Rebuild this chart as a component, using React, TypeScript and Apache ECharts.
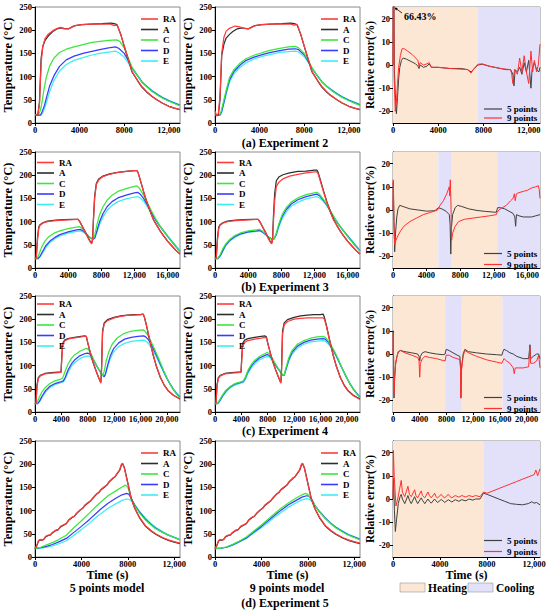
import React, { useEffect, useRef } from "react";
import * as echarts from "echarts";

// ---------- Experiment 2 ----------
const e2RA5 = [[0,18],[250,17],[400,40],[550,130],[700,165],[900,182],[1200,192],[1600,199],[2000,204],[2300,206],[2600,203],[3000,203],[3300,206],[3600,210],[4200,212],[5000,213],[6000,213],[6800,213],[7100,210],[7300,211],[7400,209],[7700,190],[8100,158],[8700,111],[9200,92],[9600,78],[10000,68],[10500,57],[10800,52],[11000,49],[11400,43],[12000,36],[12500,32],[13000,29]];
const e2A5 = [[0,18],[250,17],[400,45],[550,140],[700,165],[900,178],[1200,188],[1600,197],[2000,203],[2300,205],[2600,204],[3000,203],[3300,207],[3600,210],[4200,212],[5000,213],[6000,214],[6800,215],[7100,214],[7350,212],[7700,190],[8100,157],[8700,110],[9200,91],[9600,77],[10000,67],[10500,57],[11000,49],[11400,43],[12000,36],[12500,32],[13000,29]];
const e2C5 = [[0,18],[300,18],[450,25],[600,40],[800,72],[1000,97],[1300,122],[1700,140],[2200,152],[2800,159],[3500,164],[4300,169],[5000,173],[5800,176],[6600,178],[7300,179],[7600,176],[8000,162],[8400,138],[8700,120],[9200,102],[9600,87],[10000,78],[10500,68],[11000,60],[11400,54],[12000,47],[12500,42],[13000,37]];
const e2D5 = [[0,17],[500,17],[650,25],[850,38],[1000,52],[1300,79],[1700,102],[2200,122],[2800,136],[3500,144],[4300,150],[5000,154],[5800,158],[6600,162],[7200,164],[7500,161],[8000,150],[8400,133],[8700,119],[9200,102],[9600,88],[10000,79],[10500,69],[11000,61],[11400,55],[12000,48],[12500,43],[13000,38]];
const e2E5 = [[0,17],[550,17],[700,22],[900,35],[1100,50],[1300,67],[1700,92],[2200,112],[2800,126],[3500,135],[4300,141],[5000,146],[5800,150],[6600,153],[7200,155],[7500,152],[8000,142],[8400,128],[8700,117],[9200,101],[9600,89],[10000,80],[10500,70],[11000,62],[11400,56],[12000,49],[12500,44],[13000,39]];
const e2RA9 = [[0,26],[150,15],[300,20],[450,60],[600,150],[800,185],[1000,198],[1300,204],[1800,209],[2200,207],[2600,204],[3000,203],[3300,206],[3600,210],[4200,212],[5000,213],[6000,213],[6800,213],[7100,211],[7300,212],[7400,211],[7700,190],[8100,158],[8700,111],[9200,92],[9600,78],[10000,68],[10300,60],[10500,58],[10700,54],[11000,49],[11400,43],[12000,36],[12500,32],[13000,29]];
const e2A9 = [[0,17],[300,17],[450,50],[600,145],[800,170],[1000,183],[1300,191],[1600,197],[2000,203],[2400,205],[2700,204],[3000,203],[3300,207],[3600,210],[4200,212],[5000,213],[6000,214],[6800,215],[7100,214],[7350,212],[7700,190],[8100,157],[8700,110],[9200,91],[9600,77],[10000,67],[10500,57],[11000,49],[11400,43],[12000,36],[12500,32],[13000,29]];
const e2C9 = [[0,17],[400,17],[550,25],[750,45],[1000,70],[1300,98],[1700,115],[2200,128],[2800,139],[3500,146],[4300,152],[5000,157],[5800,161],[6600,164],[7200,165],[7500,162],[8000,150],[8400,133],[8700,119],[9200,101],[9600,88],[10000,79],[10500,69],[11000,61],[11400,55],[12000,48],[12500,43],[13000,38]];
const e2D9 = [[0,17],[450,17],[600,25],[800,45],[1000,66],[1300,93],[1700,111],[2200,124],[2800,135],[3500,142],[4300,148],[5000,152],[5800,156],[6600,159],[7200,160],[7500,158],[8000,147],[8400,131],[8700,118],[9200,101],[9600,88],[10000,79],[10500,70],[11000,62],[11400,56],[12000,49],[12500,44],[13000,39]];
const e2E9 = [[0,17],[450,17],[600,23],[800,42],[1000,62],[1300,88],[1700,106],[2200,119],[2800,130],[3500,138],[4300,144],[5000,148],[5800,152],[6600,154],[7200,155],[7500,153],[8000,143],[8400,129],[8700,117],[9200,101],[9600,89],[10000,80],[10500,71],[11000,63],[11400,57],[12000,50],[12500,45],[13000,40]];
const e2Err5 = [[0,0],[50,66.43],[120,-2],[200,-12],[300,-21],[400,-14],[500,-6],[600,-1],[750,2],[900,3],[1200,2.5],[1600,1.5],[2000,0.5],[2200,-0.5],[2300,-1.5],[2400,0],[2700,-1],[3000,-0.5],[3200,0.5],[3400,-1],[4000,-1],[5000,-1.5],[6000,-1.5],[6600,-2],[6900,-3],[7100,-2],[7500,0],[7900,0.3],[8500,-0.5],[9000,-1],[9500,-1.5],[10000,-2],[10400,-2],[10600,-4],[10700,-9],[10800,-2],[11000,-3],[11200,-1],[11400,-4],[11600,1],[11800,-3],[12000,2],[12200,-10],[12300,-2],[12500,1],[12700,-2],[12900,-3],[13000,-1]];
const e2Err9 = [[0,0],[40,66.43],[100,-5],[200,-20],[300,-16],[400,-8],[500,-1],[650,4],[800,7],[1000,7],[1300,6],[1700,4.5],[2000,3],[2200,2],[2300,-0.5],[2400,1],[2700,0],[3000,0.5],[3200,1],[3400,-1],[4000,-1],[5000,-1.5],[6000,-1.8],[6600,-2],[6900,-3.5],[7100,-2],[7500,0.3],[7900,0.5],[8500,-0.5],[9000,-1],[9500,-1.5],[10000,-1.8],[10400,-2],[10500,-4],[10600,-8],[10750,-2],[11000,-4],[11200,3],[11400,-3],[11600,4],[11800,-3],[12000,-8],[12200,6],[12350,-3],[12500,2],[12700,-3],[12850,0],[13000,9]];

// ---------- Experiment 3 ----------
const e3RA5 = [[0,20],[150,22],[300,60],[450,85],[600,92],[1000,97],[1500,100],[2500,102],[3500,103],[4500,104],[5000,105],[5200,105],[5400,100],[5700,90],[6000,80],[6400,65],[6700,55],[6850,52],[6950,60],[7050,100],[7200,150],[7400,180],[7700,190],[8200,197],[9000,202],[10000,206],[11000,208],[12000,210],[12300,210],[12450,205],[12700,190],[13100,165],[13500,142],[13900,122],[14300,104],[14700,92],[15100,80],[15500,70],[16000,58],[16500,48],[17000,38],[17500,30]];
const e3A5 = [[0,20],[150,22],[300,65],[450,88],[600,93],[1000,98],[1500,101],[2500,103],[3500,104],[4500,105],[5000,105],[5200,105],[5400,100],[5700,90],[6000,80],[6400,66],[6700,56],[6850,54],[6950,62],[7050,105],[7200,155],[7400,182],[7700,192],[8200,198],[9000,203],[10000,206],[11000,208],[12000,210],[12300,210],[12450,205],[12700,190],[13100,165],[13500,142],[13900,122],[14300,104],[14700,92],[15100,80],[15500,70],[16000,58],[16500,48],[17000,38],[17500,30]];
const e3C5 = [[0,20],[250,21],[500,30],[800,45],[1200,58],[1700,68],[2300,75],[3000,80],[4000,85],[5000,88],[5400,89],[5700,85],[6000,78],[6400,70],[6800,63],[7000,62],[7200,70],[7500,95],[7800,115],[8200,132],[8700,146],[9300,157],[10000,165],[11000,171],[12000,176],[12300,177],[12600,172],[13000,160],[13500,143],[14000,125],[14500,108],[15000,93],[15500,80],[16000,68],[16500,57],[17000,46],[17500,35]];
const e3D5 = [[0,20],[350,20],[600,25],[900,35],[1300,48],[1800,58],[2400,66],[3000,72],[4000,78],[5000,82],[5500,83],[5800,80],[6200,73],[6600,66],[7000,62],[7200,64],[7500,82],[7800,100],[8200,117],[8700,132],[9300,143],[10000,151],[11000,157],[12000,162],[12400,163],[12700,159],[13100,150],[13500,138],[14000,121],[14500,106],[15000,92],[15500,80],[16000,68],[16500,57],[17000,46],[17500,36]];
const e3E5 = [[0,20],[350,20],[600,24],[900,32],[1300,44],[1800,55],[2400,63],[3000,69],[4000,75],[5000,79],[5500,80],[5800,78],[6200,72],[6600,66],[7000,63],[7200,64],[7500,78],[7800,94],[8200,110],[8700,124],[9300,135],[10000,143],[11000,149],[12000,153],[12400,154],[12700,151],[13100,144],[13500,134],[14000,119],[14500,105],[15000,92],[15500,81],[16000,70],[16500,59],[17000,48],[17500,37]];
const e3RA9 = [[0,20],[150,22],[300,60],[450,85],[600,92],[1000,97],[1500,100],[2500,102],[3500,103],[4500,104],[5000,105],[5200,105],[5400,100],[5700,90],[6000,80],[6400,65],[6700,55],[6850,52],[6950,60],[7050,98],[7200,145],[7400,175],[7700,185],[8200,192],[9000,198],[10000,202],[11000,205],[12000,207],[12300,207],[12450,203],[12700,188],[13100,164],[13500,141],[13900,121],[14300,104],[14700,92],[15100,80],[15500,70],[16000,58],[16500,48],[17000,38],[17500,30]];
const e3A9 = [[0,20],[150,22],[300,65],[450,88],[600,93],[1000,98],[1500,101],[2500,103],[3500,104],[4500,105],[5000,105],[5200,105],[5400,100],[5700,90],[6000,80],[6400,66],[6700,56],[6850,54],[6950,64],[7050,110],[7200,160],[7400,188],[7700,196],[8200,201],[9000,205],[10000,208],[11000,209],[12000,211],[12300,211],[12450,206],[12700,191],[13100,166],[13500,143],[13900,123],[14300,105],[14700,92],[15100,80],[15500,70],[16000,58],[16500,48],[17000,38],[17500,30]];
const e3C9 = [[0,20],[300,20],[600,28],[900,40],[1300,52],[1800,62],[2400,70],[3000,75],[4000,80],[5000,82],[5400,83],[5700,80],[6100,73],[6500,66],[6900,61],[7100,62],[7400,75],[7700,95],[8100,115],[8600,130],[9200,142],[10000,151],[11000,158],[12000,162],[12300,163],[12600,159],[13000,150],[13500,137],[14000,121],[14500,106],[15000,92],[15500,80],[16000,68],[16500,57],[17000,46],[17500,36]];
const e3D9 = [[0,20],[350,20],[650,27],[950,38],[1300,50],[1800,60],[2400,68],[3000,73],[4000,78],[5000,80],[5400,81],[5700,78],[6100,72],[6500,66],[6900,62],[7100,62],[7400,73],[7700,92],[8100,111],[8600,126],[9200,138],[10000,147],[11000,154],[12000,158],[12300,159],[12600,156],[13000,148],[13500,136],[14000,120],[14500,105],[15000,92],[15500,80],[16000,69],[16500,58],[17000,47],[17500,37]];
const e3E9 = [[0,20],[350,20],[650,26],[950,36],[1300,48],[1800,58],[2400,66],[3000,72],[4000,77],[5000,79],[5400,80],[5700,77],[6100,72],[6500,66],[6900,63],[7100,63],[7400,71],[7700,88],[8100,106],[8600,121],[9200,133],[10000,142],[11000,149],[12000,153],[12300,154],[12600,151],[13000,145],[13500,134],[14000,119],[14500,105],[15000,92],[15500,81],[16000,70],[16500,60],[17000,49],[17500,38]];
const e3Err5 = [[0,0],[40,12],[120,-5],[200,-18],[300,-10],[450,-3],[600,0.5],[800,2],[1200,1.5],[2000,0.5],[3000,0],[4000,-0.5],[5000,-0.3],[5400,1],[5800,0.5],[6300,-0.5],[6700,-2],[6800,-6],[6880,-19],[6950,-8],[7100,-2],[7400,1],[7700,2],[8200,1.5],[9000,0.5],[10000,-0.2],[11000,-0.6],[12300,-1],[12450,1],[12800,1],[13300,0.5],[13800,-0.5],[14300,-1.5],[14500,-3],[14600,-7],[14700,-2],[15000,-2.5],[15500,-3],[16500,-3],[17000,-2.5],[17500,-2]];
const e3Err9 = [[0,0],[30,13],[100,-5],[200,-15],[350,-13],[600,-11],[900,-9],[1300,-7],[2000,-5],[2800,-3.5],[3600,-2],[4500,-1],[5300,0],[5600,2],[6000,4],[6400,7],[6700,10],[6750,6],[6820,13],[6900,3],[6980,-13],[7100,-10],[7400,-7],[7800,-5],[8500,-4],[9500,-3.5],[10500,-3],[11500,-2.5],[12300,-2],[12400,-1],[12600,0],[13000,1],[13500,2],[14000,4],[14300,5],[14450,7],[14550,4],[14700,7],[15000,7.5],[15500,8],[16000,8.5],[16500,9.5],[17000,10],[17300,10.5],[17400,9],[17500,5]];

// ---------- Experiment 4 ----------
const e4RA5 = [[0,18],[150,20],[300,55],[500,72],[800,78],[1500,82],[2500,84],[3500,85],[3950,86],[4050,110],[4200,145],[4500,153],[5000,157],[6000,160],[7000,162],[7600,164],[7800,163],[8000,150],[8400,128],[8800,108],[9200,92],[9600,76],[9900,65],[10000,62],[10100,90],[10250,170],[10500,190],[11000,197],[12000,203],[13000,206],[14000,208],[15000,209],[16000,210],[16400,211],[16600,205],[16900,188],[17300,162],[17900,125],[18400,100],[19000,76],[19600,58],[20200,46],[21000,36],[22000,28]];
const e4A = [[0,18],[150,20],[300,58],[500,74],[800,79],[1500,83],[2500,85],[3500,86],[3950,86],[4050,115],[4200,148],[4500,155],[5000,158],[6000,161],[7000,163],[7600,164],[7800,162],[8000,149],[8400,127],[8800,107],[9200,91],[9600,76],[9900,66],[10000,64],[10100,95],[10250,175],[10500,192],[11000,199],[12000,204],[13000,207],[14000,209],[15000,210],[16000,210],[16400,211],[16600,204],[16900,187],[17300,161],[17900,124],[18400,99],[19000,75],[19600,58],[20200,46],[21000,36],[22000,28]];
const e4C5 = [[0,18],[300,19],[600,30],[1000,42],[1500,52],[2200,61],[3000,67],[3900,71],[4200,73],[4500,85],[5000,103],[5500,115],[6000,123],[6800,131],[7600,136],[7900,137],[8200,133],[8600,122],[9000,110],[9500,96],[10000,84],[10300,78],[10500,88],[10800,110],[11200,130],[11700,146],[12500,160],[13500,169],[14500,174],[15500,176],[16400,177],[16700,174],[17100,166],[17500,155],[18000,140],[18500,124],[19000,107],[19500,90],[20000,74],[20500,60],[21000,48],[21500,38],[22000,31]];
const e4D5 = [[0,18],[400,18],[700,24],[1100,35],[1600,46],[2300,56],[3000,61],[3900,65],[4300,67],[4600,75],[5000,90],[5500,103],[6000,112],[6800,121],[7600,126],[8000,127],[8300,125],[8700,117],[9200,104],[9700,91],[10200,80],[10500,76],[10700,82],[11000,100],[11400,120],[11900,136],[12700,149],[13600,157],[14600,161],[15600,163],[16500,164],[16800,162],[17200,156],[17600,147],[18000,135],[18500,120],[19000,104],[19500,88],[20000,73],[20500,60],[21000,48],[21500,39],[22000,32]];
const e4E5 = [[0,18],[400,18],[700,22],[1100,32],[1600,43],[2300,53],[3000,59],[3900,63],[4300,65],[4600,72],[5000,85],[5500,98],[6000,106],[6800,115],[7600,120],[8000,121],[8300,120],[8700,113],[9200,102],[9700,91],[10200,82],[10500,78],[10700,82],[11000,96],[11400,114],[11900,129],[12700,141],[13600,148],[14600,152],[15600,154],[16500,155],[16800,153],[17200,148],[17600,140],[18000,130],[18500,116],[19000,101],[19500,87],[20000,73],[20500,61],[21000,50],[21500,41],[22000,33]];
const e4RA9 = [[0,18],[150,20],[300,55],[500,72],[800,78],[1500,82],[2500,84],[3500,85],[3950,86],[4050,110],[4200,143],[4500,150],[5000,154],[6000,157],[7000,159],[7600,161],[7800,160],[8000,148],[8400,127],[8800,107],[9200,91],[9600,76],[9900,65],[10000,62],[10100,90],[10250,168],[10500,188],[11000,195],[12000,200],[13000,202],[14000,203],[15000,203],[16000,203],[16400,203],[16600,200],[16900,185],[17300,160],[17900,124],[18400,99],[19000,75],[19600,57],[20200,45],[21000,35],[22000,27]];
const e4C9 = [[0,18],[350,18],[700,26],[1100,36],[1600,46],[2300,55],[3000,61],[3900,65],[4300,67],[4600,75],[5000,90],[5500,102],[6000,111],[6800,120],[7600,126],[7900,128],[8200,126],[8600,118],[9000,108],[9500,96],[10000,85],[10300,79],[10500,80],[10800,97],[11200,117],[11700,133],[12500,146],[13500,154],[14500,159],[15500,162],[16400,163],[16700,161],[17100,155],[17500,146],[18000,134],[18500,120],[19000,104],[19500,88],[20000,73],[20500,60],[21000,48],[21500,39],[22000,31]];
const e4D9 = [[0,18],[400,18],[750,25],[1150,35],[1650,45],[2300,54],[3000,60],[3900,64],[4300,66],[4600,73],[5000,87],[5500,99],[6000,108],[6800,117],[7600,122],[7900,124],[8200,122],[8600,116],[9000,106],[9500,95],[10000,85],[10300,79],[10500,79],[10800,94],[11200,113],[11700,129],[12500,142],[13500,150],[14500,155],[15500,157],[16400,158],[16700,157],[17100,152],[17500,144],[18000,132],[18500,118],[19000,103],[19500,88],[20000,73],[20500,60],[21000,49],[21500,40],[22000,32]];
const e4E9 = [[0,18],[400,18],[750,24],[1150,33],[1650,43],[2300,52],[3000,58],[3900,62],[4300,64],[4600,70],[5000,83],[5500,95],[6000,104],[6800,113],[7600,118],[7900,120],[8200,119],[8600,113],[9000,104],[9500,94],[10000,85],[10300,80],[10500,80],[10800,92],[11200,110],[11700,125],[12500,138],[13500,146],[14500,151],[15500,153],[16400,154],[16700,153],[17100,148],[17500,141],[18000,130],[18500,117],[19000,102],[19500,88],[20000,74],[20500,61],[21000,50],[21500,41],[22000,33]];
const e4Err5 = [[0,0],[40,10],[100,-5],[150,-19],[250,-10],[400,-4],[600,-1],[800,1],[1100,1.5],[1800,1],[2800,0.5],[3700,0],[3900,-1],[4000,-3],[4100,-1],[4400,0.5],[4800,1],[5500,0.5],[6500,0],[7500,-0.3],[7800,0],[7950,2],[8400,1.5],[9000,0.5],[9600,-0.5],[10000,-1],[10100,-5],[10150,-19],[10250,-6],[10500,0],[10750,2],[11300,1],[12500,0.5],[14000,0],[15500,-0.3],[16300,-0.5],[16450,1],[16600,2],[17000,1.5],[17500,0.5],[18000,0],[18500,-1],[19000,-1.5],[19500,-2],[20300,-2],[20500,4],[20600,-2],[21000,-1],[21500,0],[21800,0],[22000,-2]];
const e4Err9 = [[0,0],[40,9],[100,-5],[150,-17],[250,-10],[400,-4],[600,-1],[800,1],[1100,1.5],[1800,0.5],[2800,-0.5],[3700,-1.5],[3900,-3],[4000,-10],[4100,-4],[4400,-2],[4800,-1],[5500,-1.5],[6500,-2],[7500,-2.8],[7800,-3],[7950,-0.5],[8400,-0.5],[9000,-1.5],[9600,-2],[10000,-2.5],[10100,-6],[10150,-19],[10250,-7],[10500,-1],[10750,1.5],[11300,0.5],[12500,-1],[14000,-2.5],[15500,-3.5],[16300,-4],[16450,-3],[16600,-2],[17000,-3],[17500,-4],[18000,-6],[18150,-8.5],[18300,-6],[19000,-6],[19500,-6],[20300,-5.5],[20500,3],[20600,-4],[21000,-4],[21500,-3],[21800,-0.5],[22000,-6]];

// ---------- Experiment 5 ----------
const e5RA = [[0,18],[150,25],[300,35],[450,38],[600,36],[750,38],[900,44],[1100,47],[1300,47],[1500,53],[1800,58],[2000,59],[2200,66],[2500,70],[2700,72],[2900,80],[3200,86],[3400,88],[3600,95],[3900,102],[4100,105],[4300,112],[4600,118],[4800,121],[5000,128],[5300,136],[5500,139],[5700,146],[6000,152],[6200,155],[6400,163],[6700,170],[6900,173],[7100,181],[7300,188],[7450,200],[7550,202],[7700,192],[7900,170],[8300,125],[8600,105],[9000,86],[9500,68],[10000,57],[10400,50],[11000,42],[11500,37],[12000,33],[12500,30]];
const e5A = [[0,18],[150,24],[300,34],[450,37],[600,36],[750,38],[900,43],[1100,46],[1300,47],[1500,52],[1800,57],[2000,59],[2200,65],[2500,69],[2700,72],[2900,79],[3200,85],[3400,88],[3600,94],[3900,101],[4100,105],[4300,111],[4600,117],[4800,121],[5000,127],[5300,135],[5500,139],[5700,145],[6000,151],[6200,155],[6400,162],[6700,169],[6900,173],[7100,180],[7300,187],[7450,198],[7550,201],[7700,193],[7900,171],[8300,126],[8600,105],[9000,85],[9500,67],[10000,56],[10400,49],[11000,41],[11500,36],[12000,32],[12500,29]];
const e5C5 = [[0,18],[500,21],[1000,26],[1500,31],[2000,37],[2700,47],[3300,62],[4000,78],[4700,95],[5300,110],[5700,119],[6300,132],[7000,143],[7500,151],[7800,155],[8000,150],[8300,127],[8600,110],[9000,95],[9500,80],[10000,69],[10400,61],[11000,53],[11500,47],[12000,42],[12500,37]];
const e5D5 = [[0,18],[500,20],[1000,23],[1500,27],[2000,32],[2700,40],[3300,52],[4000,66],[4700,81],[5300,95],[5700,104],[6300,116],[7000,127],[7500,134],[7900,137],[8100,135],[8350,124],[8600,112],[9000,97],[9500,82],[10000,70],[10400,62],[11000,53],[11500,47],[12000,42],[12500,37]];
const e5E5 = [[0,18],[500,19],[1000,21],[1500,24],[2000,28],[2700,35],[3300,46],[4000,59],[4700,73],[5300,86],[5700,94],[6300,105],[7000,115],[7500,122],[7900,125],[8100,124],[8350,121],[8600,113],[9000,99],[9500,84],[10000,72],[10400,64],[11000,55],[11500,48],[12000,43],[12500,38]];
const e5C9 = [[0,18],[500,19],[1000,22],[1500,27],[2000,33],[2700,43],[3300,55],[4000,69],[4700,84],[5300,97],[5700,105],[6300,116],[7000,127],[7500,134],[7800,137],[8000,135],[8300,125],[8600,112],[9000,97],[9500,83],[10000,71],[10400,63],[11000,54],[11500,47],[12000,42],[12500,37]];
const e5D9 = [[0,18],[500,19],[1000,21],[1500,26],[2000,32],[2700,41],[3300,53],[4000,66],[4700,81],[5300,93],[5700,101],[6300,112],[7000,122],[7500,129],[7900,132],[8100,131],[8350,123],[8600,112],[9000,98],[9500,84],[10000,72],[10400,64],[11000,55],[11500,48],[12000,43],[12500,38]];
const e5E9 = [[0,18],[500,19],[1000,21],[1500,25],[2000,31],[2700,40],[3300,51],[4000,63],[4700,77],[5300,89],[5700,96],[6300,107],[7000,117],[7500,123],[7900,126],[8100,125],[8350,120],[8600,111],[9000,98],[9500,85],[10000,73],[10400,65],[11000,56],[11500,49],[12000,44],[12500,39]];
const e5Err5 = [[0,0],[50,9],[120,-5],[200,-14],[300,-9],[450,-2],[600,1],[700,2],[800,0],[1000,-2],[1270,1.5],[1400,-0.5],[1550,-2],[1840,1],[1950,-0.5],[2100,-2],[2400,0.5],[2500,-0.5],[2700,-2],[2970,0],[3100,-1],[3250,-1.8],[3540,0],[3650,-0.8],[3800,-1.5],[4100,-0.2],[4250,-0.8],[4400,-1.5],[4700,-0.3],[4850,-0.8],[5000,-1.3],[5300,-0.3],[5600,-1],[5850,-0.3],[6200,-0.8],[6450,0],[6800,-0.5],[7000,0],[7400,0],[7700,2.5],[8000,2],[8500,1],[9000,0],[9500,-1],[10000,-2],[10500,-2.3],[11000,-2.5],[11500,-2],[11800,-1.2],[12000,-1.8],[12200,-1.5],[12500,-2.5]];
const e5Err9 = [[0,0],[30,21],[100,10],[250,-3],[400,0],[550,4],[700,8],[800,3],[1000,1],[1270,5.5],[1400,2],[1550,1],[1840,4],[1950,1.5],[2100,0.5],[2400,3.5],[2500,1.5],[2700,0.5],[2970,3],[3100,1.5],[3250,0.5],[3540,2.5],[3650,1],[3800,0.5],[4100,2],[4250,1],[4400,0.5],[4700,2],[4850,1],[5000,0.5],[5300,1.5],[5600,0.8],[5850,1.5],[6200,0.8],[6450,1.5],[6800,1],[7000,1.5],[7400,1],[7700,3],[8000,2.5],[8500,3.5],[9000,4.5],[9500,5.5],[10000,6.5],[10500,7.5],[11000,8.5],[11500,9.5],[12000,10.5],[12150,12.5],[12300,10],[12500,13]];

// ---------- phases, axes ----------
const heatCool2 = [[0, 7500, "h"], [7500, 13000, "c"]];
const heatCool3 = [[0, 5400, "h"], [5400, 7000, "c"], [7000, 12400, "h"], [12400, 17500, "c"]];
const heatCool4 = [[0, 7800, "h"], [7800, 10300, "c"], [10300, 16400, "h"], [16400, 22000, "c"]];
const heatCool5 = [[0, 7700, "h"], [7700, 12500, "c"]];

const xMax = [13000, 17500, 22000, 12500];
const xTicks = [
  [0, 4000, 8000, 12000],
  [0, 4000, 8000, 12000, 16000],
  [0, 4000, 8000, 12000, 16000, 20000],
  [0, 4000, 8000, 12000],
];
const tempTicks = [0, 50, 100, 150, 200, 250];
const errTicks = [-20, -10, 0, 10, 20];
const sensorNames = ["RA", "A", "C", "D", "E"];
const errNames = ["5 points", "9 points"];
const captions = ["(a) Experiment 2", "(b) Experiment 3", "(c) Experiment 4", "(d) Experiment 5"];

const tempData = [
  [[e2RA5, e2A5, e2C5, e2D5, e2E5], [e2RA9, e2A9, e2C9, e2D9, e2E9]],
  [[e3RA5, e3A5, e3C5, e3D5, e3E5], [e3RA9, e3A9, e3C9, e3D9, e3E9]],
  [[e4RA5, e4A, e4C5, e4D5, e4E5], [e4RA9, e4A, e4C9, e4D9, e4E9]],
  [[e5RA, e5A, e5C5, e5D5, e5E5], [e5RA, e5A, e5C9, e5D9, e5E9]],
];
const errData = [[e2Err5, e2Err9], [e3Err5, e3Err9], [e4Err5, e4Err9], [e5Err5, e5Err9]];
const phases = [heatCool2, heatCool3, heatCool4, heatCool5];

const FONT = '"Liberation Serif", "Times New Roman", serif';
const sensorColors = ["#FF3B3B", "#2E2E2E", "#3BE83B", "#3B3BFF", "#3BEFEF"];
const errColors = ["#404040", "#FF3030"];
const HEAT = "#FCE6D4";
const COOL = "#E2E1F9";

const gridLeft = [35, 215, 393];
const gridWidth = [145, 145, 147];
const gridTop = [7, 152, 296, 441];
const gridHeight = 116;

const fmtX = (v: number) => (v >= 10000 ? Math.floor(v / 1000) + ",000" : String(v));

function buildOption() {
  const grid: any[] = [];
  const xAxis: any[] = [];
  const yAxis: any[] = [];
  const series: any[] = [];
  const legend: any[] = [];
  const labelStyle = { fontSize: 8.5, fontWeight: "bold", fontFamily: FONT, color: "#000" };
  const legendText = { fontSize: 9, lineHeight: 9, fontWeight: "bold", fontFamily: FONT, color: "#000" };
  const tempLegendPos = [
    [14.5, [141, 321]],
    [158, [37, 217]],
    [299.5, [37, 217]],
    [448.5, [141, 321]],
  ];
  const errLegendTop = [104.5, 249, 393, 536];

  for (let r = 0; r < 4; r++) {
    for (let c = 0; c < 3; c++) {
      const gi = r * 3 + c;
      const isErr = c === 2;
      grid.push({
        left: gridLeft[c], top: gridTop[r], width: gridWidth[c], height: gridHeight,
        show: true, borderColor: "#8a8a8a", borderWidth: 1, backgroundColor: "transparent",
        containLabel: false, outerBoundsMode: "none",
      });
      xAxis.push({
        gridIndex: gi, type: "value", min: 0, max: xMax[r],
        axisLine: { show: true, onZero: false, lineStyle: { color: "#000", width: 1 } },
        axisTick: { show: true, length: 3, customValues: xTicks[r], lineStyle: { color: "#000" } },
        axisLabel: { ...labelStyle, customValues: xTicks[r], formatter: fmtX, margin: 2 },
        splitLine: { show: false },
        name: r === 3 ? "Time (s)" : "",
        nameLocation: "middle", nameGap: 12, nameMoveOverlap: false,
        nameTextStyle: { fontSize: 12, fontWeight: "bold", fontFamily: FONT, color: "#000" },
      });
      yAxis.push({
        gridIndex: gi, type: "value",
        min: isErr ? -25 : 0, max: isErr ? 25 : 250,
        axisLine: { show: true, onZero: false, lineStyle: { color: "#000", width: 1 } },
        axisTick: { show: true, length: 3, customValues: isErr ? errTicks : tempTicks, lineStyle: { color: "#000" } },
        axisLabel: { ...labelStyle, customValues: isErr ? errTicks : tempTicks, margin: 3 },
        splitLine: { show: false },
        name: isErr ? "Relative error(%)" : "Temperature (°C)",
        nameLocation: "middle", nameGap: isErr ? 17 : 21, nameMoveOverlap: false,
        nameTextStyle: { fontSize: isErr ? 11.5 : 12.5, fontWeight: "bold", fontFamily: FONT, color: "#000" },
      });

      if (!isErr) {
        const arrs = tempData[r][c];
        for (let k = 4; k >= 0; k--) {
          series.push({
            type: "line", name: sensorNames[k], data: arrs[k], xAxisIndex: gi, yAxisIndex: gi,
            symbol: "none", lineStyle: { color: sensorColors[k], width: 1.25 },
            itemStyle: { color: sensorColors[k] }, z: 3,
          });
        }
        legend.push({
          data: sensorNames, orient: "vertical", left: (tempLegendPos[r][1] as number[])[c], top: tempLegendPos[r][0],
          icon: "rect", itemWidth: 17, itemHeight: 1.6, itemGap: 1.5, padding: 0, selectedMode: false,
          textStyle: legendText,
        });
      } else {
        for (let k = 0; k < 2; k++) {
          const s: any = {
            type: "line", name: errNames[k], data: errData[r][k], xAxisIndex: gi, yAxisIndex: gi,
            symbol: "none", lineStyle: { color: errColors[k], width: 1 },
            itemStyle: { color: errColors[k] }, z: 3,
          };
          if (k === 0) {
            s.markArea = {
              silent: true,
              data: phases[r].map((p: any) => [
                { xAxis: p[0], itemStyle: { color: p[2] === "h" ? HEAT : COOL } },
                { xAxis: p[1] },
              ]),
            };
          }
          series.push(s);
        }
        legend.push({
          data: errNames, orient: "vertical", left: 484, top: errLegendTop[r],
          icon: "rect", itemWidth: 18, itemHeight: 1.2, itemGap: r === 0 ? 0 : 2, padding: 0, selectedMode: false,
          textStyle: legendText,
        });
      }
    }
  }

  const captionY = [143, 287, 431, 603];
  const elements: any[] = captions.map((t, i) => ({
    type: "text", x: 285, y: captionY[i],
    style: { text: t, fill: "#000", font: `bold 12px ${FONT}`, align: "center", verticalAlign: "middle" },
  }));
  elements.push(
    { type: "text", x: 107, y: 588, style: { text: "5 points model", fill: "#000", font: `bold 12px ${FONT}`, align: "center", verticalAlign: "middle" } },
    { type: "text", x: 287, y: 588, style: { text: "9 points model", fill: "#000", font: `bold 12px ${FONT}`, align: "center", verticalAlign: "middle" } },
    { type: "text", x: 404, y: 16, z: 10, style: { text: "66.43%", fill: "#000", font: `bold 10px ${FONT}`, align: "left", verticalAlign: "middle" } },
    { type: "line", z: 10, shape: { x1: 402, y1: 13, x2: 396, y2: 8.6 }, style: { stroke: "#000", lineWidth: 0.8 } },
    { type: "polygon", z: 10, shape: { points: [[394.5, 7.5], [397.8, 8.1], [396.0, 10.5]] }, style: { fill: "#000" } },
    { type: "rect", shape: { x: 400, y: 583, width: 25, height: 9 }, style: { fill: HEAT, stroke: "#999", lineWidth: 0.6 } },
    { type: "text", x: 428, y: 588, style: { text: "Heating", fill: "#000", font: `bold 11.5px ${FONT}`, align: "left", verticalAlign: "middle" } },
    { type: "rect", shape: { x: 468, y: 583, width: 25, height: 9 }, style: { fill: COOL, stroke: "#999", lineWidth: 0.6 } },
    { type: "text", x: 496, y: 588, style: { text: "Cooling", fill: "#000", font: `bold 11.5px ${FONT}`, align: "left", verticalAlign: "middle" } },
  );

  return {
    animation: false,
    backgroundColor: "#fff",
    textStyle: { fontFamily: FONT },
    grid, xAxis, yAxis, series, legend,
    graphic: { elements },
  };
}

export default function App() {
  const ref = useRef<HTMLDivElement>(null);
  useEffect(() => {
    if (!ref.current) return;
    const chart = echarts.init(ref.current, undefined, { renderer: "svg" });
    chart.setOption(buildOption() as any);
    return () => chart.dispose();
  }, []);
  return (
    <div
      ref={ref}
      style={{ position: "absolute", left: 0, top: 0, width: 550, height: 612, background: "#fff" }}
    />
  );
}
